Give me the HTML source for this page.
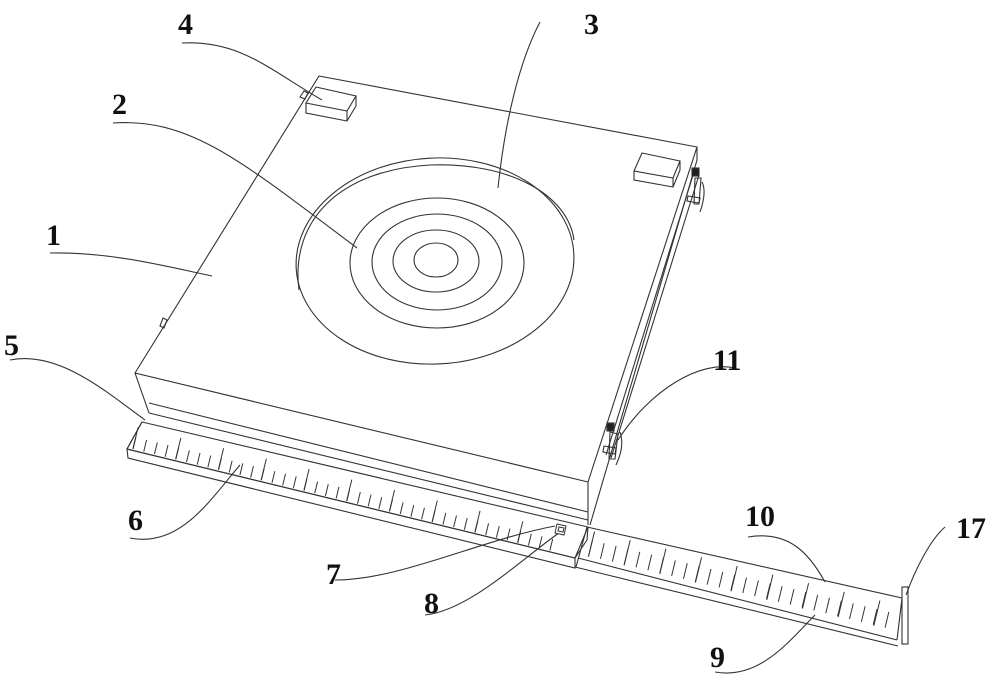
<!DOCTYPE html>
<html><head><meta charset="utf-8"><style>
html,body{margin:0;padding:0;background:#fff;}
svg{display:block}
text{font-family:"Liberation Serif",serif;font-weight:bold;font-size:30px;fill:#111}
</style></head><body>
<svg width="1000" height="683" viewBox="0 0 1000 683" xmlns="http://www.w3.org/2000/svg">
<g fill="none" stroke="#333" stroke-width="1.1">
<polygon points="319,76 697,147 588,482 135,373" fill="#fff"/>
<polyline points="135,373 149,413"/>
<line x1="149" y1="403" x2="588" y2="512"/>
<line x1="149" y1="413" x2="588" y2="520"/>
<line x1="588" y1="482" x2="588" y2="525"/>
<polyline points="697,147 697,160 590,525"/>
<line x1="694" y1="172" x2="606" y2="455"/>
<line x1="699" y1="175" x2="611" y2="458"/>
<rect x="692" y="168" width="7" height="8" fill="#222"/>
<path d="M695,178 l6,0 l-2,26 l-5,0z"/>
<path d="M702,182 q5,10 -2,30"/>
<path d="M688,196 l12,2 l-1,5 l-12,-2z"/>
<rect x="607" y="423" width="7" height="8" fill="#222"/>
<path d="M610,432 l8,2 l-3,25 l-6,0z"/>
<path d="M620,432 q5,14 -4,33"/>
<path d="M604,446 l12,2 l-1,6 l-12,-2z"/>
<path d="M300,97 l4,-6 l4,2 l-3,6z"/>
<path d="M160,326 l3,-8 l4,2 l-3,8z"/>
<polygon points="316,87 356,96 347,111 306,103" fill="#fff"/>
<path d="M306,103 L306,113 L347,121 L347,111 M347,121 L356,106 L356,96"/>
<polygon points="642,153 680,161 673,178 634,171" fill="#fff"/>
<path d="M634,171 L634,180 L673,187 L673,178 M673,187 L680,170 L680,161"/>
<ellipse cx="435" cy="261" rx="139" ry="103" transform="rotate(-3 435 261)"/>
<path d="M299,290 C290,220 340,170 430,165 C510,162 568,195 574,240"/>
<ellipse cx="437" cy="263" rx="87" ry="65"/>
<ellipse cx="437" cy="262" rx="65" ry="48"/>
<ellipse cx="436" cy="261" rx="43" ry="31"/>
<ellipse cx="436" cy="260" rx="22" ry="17"/>
<polygon points="142,422 588,527 587,540 575,558 127,449" fill="#fff"/>
<line x1="142" y1="422" x2="127" y2="449"/>
<line x1="127" y1="449" x2="575" y2="558"/>
<polyline points="127,449 128,458 575,568 575,558"/>
<line x1="588" y1="527" x2="575" y2="558"/>
<polyline points="587,527 902,598"/>
<polyline points="578,558 897,640"/>
<polyline points="575,567 898,646"/>
<line x1="587" y1="527" x2="576" y2="567"/>
<rect x="902" y="587" width="6" height="57"/>
<line x1="902" y1="598" x2="897" y2="640"/>
<path d="M182,43 C240,40 270,70 322,100"/>
<path d="M113,123 C190,118 240,160 357,248"/>
<path d="M50,253 C110,252 160,265 212,276"/>
<path d="M540,22 C520,60 505,120 498,188"/>
<path d="M10,360 C60,350 110,395 145,420"/>
<path d="M735,368 C700,360 650,390 618,440"/>
<path d="M130,538 C180,548 210,500 240,465"/>
<path d="M335,580 C400,580 480,540 555,526"/>
<path d="M425,615 C470,610 520,560 563,530"/>
<path d="M748,537 C790,530 810,555 825,582"/>
<path d="M715,672 C760,680 790,640 815,615"/>
<path d="M945,527 C930,540 915,570 906,595"/>
</g>
<g fill="#fff" stroke="#333" stroke-width="1">
<polygon points="557,524 566,526 564,535 555,533"/>
<polygon points="559,527 564,528 563,532 558,531"/>
</g>
<g fill="none" stroke="#333" stroke-linecap="butt">
<line x1="134" y1="443" x2="552" y2="545" stroke-width="12" stroke-dasharray="1 10"/>
<line x1="135" y1="438" x2="553" y2="540" stroke-width="22" stroke-dasharray="1 43"/>
<line x1="590" y1="548" x2="896" y2="622" stroke-width="16" stroke-dasharray="1 11.2"/>
<line x1="591" y1="544" x2="897" y2="618" stroke-width="26" stroke-dasharray="1 35.7"/>
</g>
<text x="178" y="34">4</text>
<text x="584" y="34">3</text>
<text x="112" y="114">2</text>
<text x="46" y="245">1</text>
<text x="4" y="355">5</text>
<text x="713" y="370">11</text>
<text x="128" y="530">6</text>
<text x="745" y="526">10</text>
<text x="956" y="538">17</text>
<text x="326" y="584">7</text>
<text x="424" y="613">8</text>
<text x="710" y="667">9</text>
</svg>
</body></html>
